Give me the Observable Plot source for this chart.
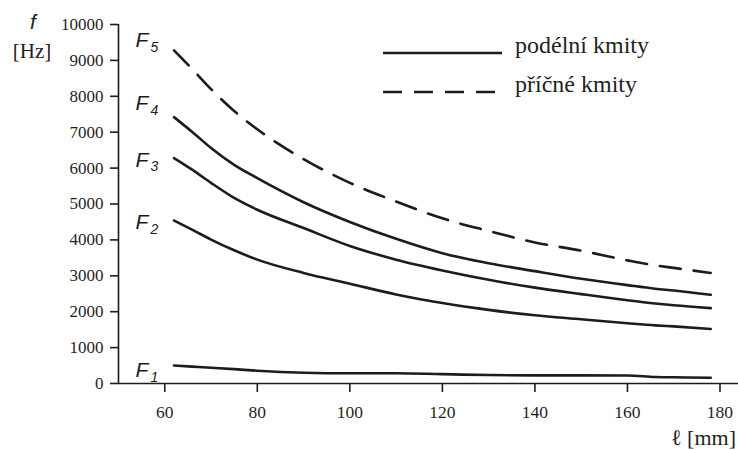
<!DOCTYPE html>
<html>
<head>
<meta charset="utf-8">
<script src="https://cdn.jsdelivr.net/npm/d3@7"></script>
<script src="https://cdn.jsdelivr.net/npm/@observablehq/plot@0.6"></script>
<style>
  html, body { margin: 0; padding: 0; background: #fff; }
  #chart { position: relative; width: 738px; height: 450px; }
</style>
</head>
<body>
<div id="chart"></div>
<script>
// Lengths ℓ [mm]
const lengths = [62, 66, 70, 75, 80, 90, 100, 110, 120, 130, 140, 150, 160, 166, 170, 178];
// Frequencies f [Hz]
const F1 = [500, 470, 440, 400, 355, 300, 285, 285, 260, 235, 225, 225, 222, 180, 172, 160];
const F2 = [4540, 4280, 4010, 3710, 3450, 3080, 2780, 2480, 2240, 2050, 1900, 1790, 1680, 1620, 1590, 1520];
const F3 = [6280, 5950, 5590, 5170, 4840, 4330, 3830, 3450, 3150, 2890, 2670, 2490, 2320, 2230, 2180, 2100];
const F4 = [7420, 7000, 6560, 6090, 5720, 5050, 4500, 4030, 3630, 3350, 3130, 2920, 2740, 2640, 2590, 2470];
const F5 = [9280, 8750, 8200, 7590, 7080, 6250, 5590, 5070, 4600, 4250, 3930, 3700, 3430, 3290, 3220, 3080];

const seriesNames = ["F1", "F2", "F3", "F4", "F5"];
const seriesValues = [F1, F2, F3, F4, F5];
const seriesKind = ["podélní", "podélní", "podélní", "podélní", "příčné"];

// Curve labels
const labelMain = ["F", "F", "F", "F", "F"];
const labelSub = ["1", "2", "3", "4", "5"];
const labelX = [53.7, 53.7, 53.7, 53.7, 53.7];
const labelY = [360, 4480, 6230, 7800, 9560];

const xTicks = [60, 80, 100, 120, 140, 160, 180];
const yTicks = [0, 1000, 2000, 3000, 4000, 5000, 6000, 7000, 8000, 9000, 10000];

const legendLabels = ["podélní kmity", "příčné kmity"];

const rows = [];
seriesNames.forEach((s, i) => {
  lengths.forEach((l, j) => rows.push({series: s, kind: seriesKind[i], l, f: seriesValues[i][j]}));
});
const labels = labelMain.map((m, i) => ({m, s: labelSub[i], x: labelX[i], y: labelY[i]}));

const ink = "#1c1c1c";
const textInk = "#1f1f1f";
const serif = "'Liberation Serif', 'Times New Roman', serif";
const sans = "'Liberation Sans', Arial, sans-serif";

const plot = Plot.plot({
  width: 738,
  height: 450,
  marginLeft: 118,
  marginRight: 0,
  marginTop: 24,
  marginBottom: 67,
  style: {fontFamily: serif, fontSize: "17px", color: textInk, background: "#fff"},
  x: {domain: [50, 184]},
  y: {domain: [0, 10000]},
  marks: [
    Plot.axisY({ticks: yTicks, tickFormat: d => String(d), tickSize: 8, tickPadding: 7, strokeWidth: 1.6, stroke: ink, label: null, fontSize: 17}),
    Plot.axisX({ticks: xTicks, tickFormat: d => String(d), tickSize: 9, tickPadding: 13, strokeWidth: 1.6, stroke: ink, label: null, fontSize: 17.5}),
    Plot.ruleX([50], {stroke: ink, strokeWidth: 1.6}),
    Plot.ruleY([0], {stroke: ink, strokeWidth: 1.6}),
    Plot.line(rows.filter(d => d.kind === "podélní"), {x: "l", y: "f", z: "series", stroke: ink, strokeWidth: 2.6, curve: "monotone-x"}),
    Plot.line(rows.filter(d => d.kind === "příčné"), {x: "l", y: "f", z: "series", stroke: ink, strokeWidth: 2.6, strokeDasharray: "21,13", curve: "monotone-x"}),
    Plot.text(labels, {x: "x", y: "y", text: "m", textAnchor: "start", fontFamily: sans, fontStyle: "italic", fontSize: 21, fill: ink}),
    Plot.text(labels, {x: "x", y: "y", text: "s", textAnchor: "start", dx: 15, dy: 7, fontFamily: sans, fontStyle: "italic", fontSize: 14, fill: ink})
  ]
});

document.getElementById("chart").appendChild(plot);

// Axis titles and legend
const svg = d3.select(plot);

svg.append("text").attr("x", 33).attr("y", 29).attr("text-anchor", "middle")
  .attr("font-family", sans).attr("font-style", "italic").attr("font-size", 21).attr("fill", ink).text("f");
svg.append("text").attr("x", 32).attr("y", 58).attr("text-anchor", "middle")
  .attr("font-family", serif).attr("font-size", 21).attr("fill", textInk).text("[Hz]");
svg.append("text").attr("x", 736).attr("y", 445).attr("text-anchor", "end")
  .attr("font-family", serif).attr("font-size", 22).attr("fill", textInk).text("ℓ [mm]");

const legend = svg.append("g");
const legendY = [53, 92];
const legendDash = [null, "19,12"];
legendLabels.forEach((t, i) => {
  const line = legend.append("line").attr("x1", 383).attr("x2", 502).attr("y1", legendY[i]).attr("y2", legendY[i])
    .attr("stroke", ink).attr("stroke-width", 2.6);
  if (legendDash[i]) line.attr("stroke-dasharray", legendDash[i]);
  legend.append("text").attr("x", 515).attr("y", legendY[i]).attr("text-anchor", "start")
    .attr("font-family", serif).attr("font-size", 24).attr("fill", textInk).text(t);
});
</script>
</body>
</html>
